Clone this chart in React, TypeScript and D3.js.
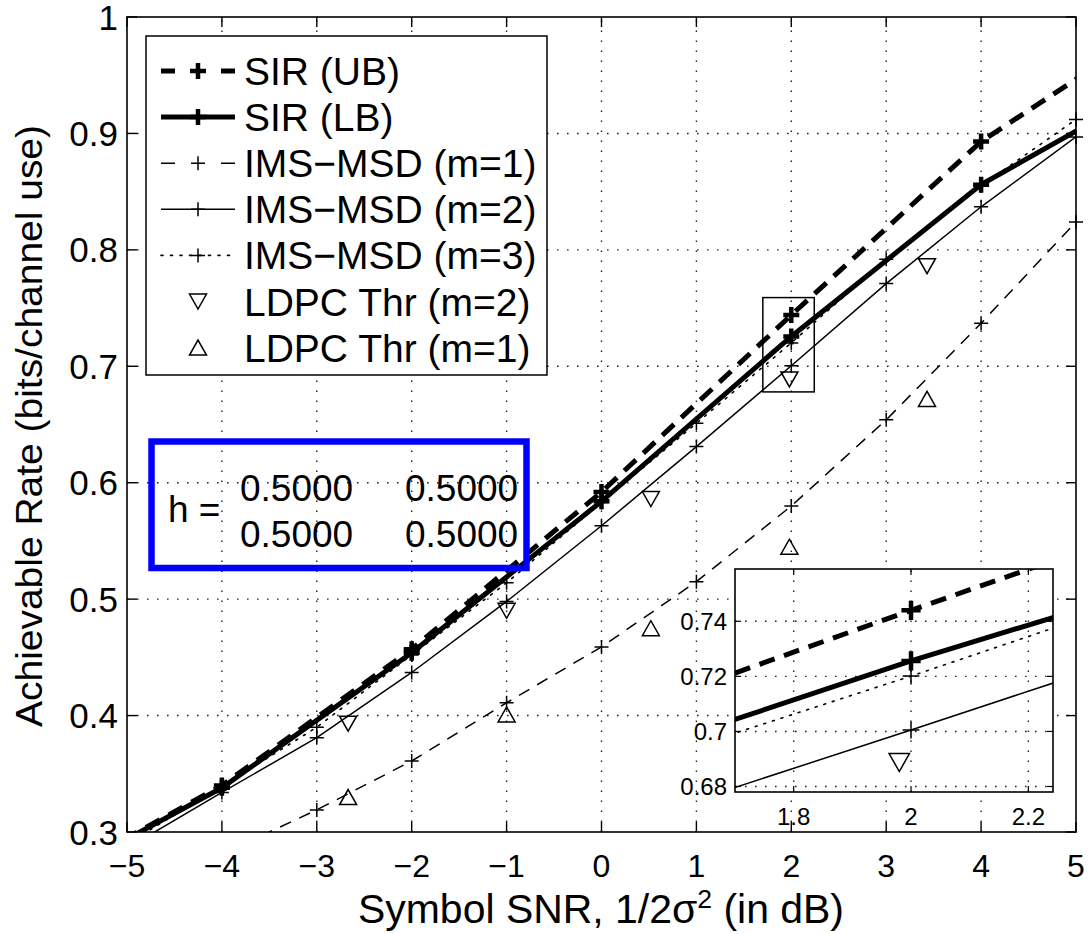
import React from "react";
import * as d3 from "d3";

// SIR bounds are evaluated every 2 dB (markers at each point)
const snrEven = [-6, -4, -2, 0, 2, 4, 6];
const sirUB = [0.25, 0.34, 0.457, 0.592, 0.744, 0.893, 1.0];
const sirLB = [0.25, 0.338, 0.454, 0.584, 0.7256, 0.856, 0.948];

// IMS-MSD curves, every 1 dB
const snrInt = [-5, -4, -3, -2, -1, 0, 1, 2, 3, 4, 5];
const imsM1 = [0.245, 0.281, 0.319, 0.361, 0.411, 0.459, 0.515, 0.58, 0.654, 0.737, 0.824];
const imsM2 = [0.286, 0.334, 0.381, 0.437, 0.498, 0.563, 0.631, 0.7005, 0.771, 0.837, 0.897];
const imsM3 = [0.29, 0.339, 0.39, 0.452, 0.514, 0.583, 0.651, 0.7201, 0.792, 0.855, 0.912];

// LDPC thresholds
const ldpcM2X = [-2.67, -1.0, 0.52, 1.98, 3.43];
const ldpcM2Y = [0.393, 0.49, 0.586, 0.6887, 0.786];
const ldpcM1X = [-2.67, -1.0, 0.52, 1.98, 3.43];
const ldpcM1Y = [0.33, 0.401, 0.475, 0.545, 0.672];

const xTicks = [-5, -4, -3, -2, -1, 0, 1, 2, 3, 4, 5];
const yTicks = [0.3, 0.4, 0.5, 0.6, 0.7, 0.8, 0.9, 1];
const insetXDomain = [1.7, 2.242];
const insetYDomain = [0.678, 0.759];
const insetXTicks = [1.8, 2, 2.2];
const insetYTicks = [0.68, 0.7, 0.72, 0.74];

const legendLabels = [
  "SIR (UB)",
  "SIR (LB)",
  "IMS\u2212MSD (m=1)",
  "IMS\u2212MSD (m=2)",
  "IMS\u2212MSD (m=3)",
  "LDPC Thr (m=2)",
  "LDPC Thr (m=1)",
];
const hRows = [
  ["0.5000", "0.5000"],
  ["0.5000", "0.5000"],
];

const FONT = "'Liberation Sans', Arial, Helvetica, sans-serif";
const W = 1089;
const H = 934;

type Series = {
  xs: number[];
  ys: number[];
  width: number;
  dash?: string;
  line: boolean;
  marker: "plusBold" | "plus" | "down" | "up";
};

const series: Series[] = [
  { xs: snrInt, ys: imsM1, width: 1.5, dash: "12 9", line: true, marker: "plus" },
  { xs: snrInt, ys: imsM2, width: 1.5, line: true, marker: "plus" },
  { xs: snrInt, ys: imsM3, width: 1.6, dash: "2 7", line: true, marker: "plus" },
  { xs: snrEven, ys: sirLB, width: 5, line: true, marker: "plusBold" },
  { xs: snrEven, ys: sirUB, width: 5, dash: "16 10", line: true, marker: "plusBold" },
  { xs: ldpcM2X, ys: ldpcM2Y, width: 1.5, line: false, marker: "down" },
  { xs: ldpcM1X, ys: ldpcM1Y, width: 1.5, line: false, marker: "up" },
];

const legendSeries = [4, 3, 0, 1, 2, 5, 6];

function Marker({ kind, cx, cy, k = 1 }: { kind: string; cx: number; cy: number; k?: number }) {
  if (kind === "plus" || kind === "plusBold") {
    const r = (kind === "plusBold" ? 8 : 7) * k;
    const sw = kind === "plusBold" ? 4.5 : 1.5;
    return (
      <path
        d={`M${cx - r},${cy}H${cx + r}M${cx},${cy - r}V${cy + r}`}
        stroke="#000"
        strokeWidth={sw}
        fill="none"
      />
    );
  }
  const hw = 8.5 * k;
  const hh = 7.5 * k;
  const d =
    kind === "down"
      ? `M${cx - hw},${cy - hh}L${cx + hw},${cy - hh}L${cx},${cy + hh}Z`
      : `M${cx - hw},${cy + hh}L${cx + hw},${cy + hh}L${cx},${cy - hh}Z`;
  return <path d={d} stroke="#000" strokeWidth={1.5} fill="none" strokeLinejoin="miter" />;
}

function Panel({
  xs,
  ys,
  clipId,
  k,
}: {
  xs: d3.ScaleLinear<number, number>;
  ys: d3.ScaleLinear<number, number>;
  clipId: string;
  k: number;
}) {
  const [x0, x1] = xs.domain();
  const [y0, y1] = ys.domain();
  return (
    <g>
      <g clipPath={`url(#${clipId})`}>
        {series.map((s, i) => {
          if (!s.line) return null;
          const pts = s.xs.map((v, j) => [v, s.ys[j]] as [number, number]);
          const line = d3
            .line<[number, number]>()
            .x((d) => xs(d[0]))
            .y((d) => ys(d[1]));
          return (
            <path
              key={i}
              d={line(pts) || ""}
              fill="none"
              stroke="#000"
              strokeWidth={s.width}
              strokeDasharray={s.dash}
              strokeLinecap={s.dash && s.dash.startsWith("2 ") ? "round" : "butt"}
            />
          );
        })}
      </g>
      {series.map((s, i) =>
        s.xs.map((v, j) => {
          const yv = s.ys[j];
          if (v < x0 - 1e-9 || v > x1 + 1e-9 || yv < y0 || yv > y1) return null;
          return <Marker key={`${i}-${j}`} kind={s.marker} cx={xs(v)} cy={ys(yv)} k={k} />;
        })
      )}
    </g>
  );
}

export default function App() {
  const x = d3.scaleLinear().domain([-5, 5]).range([127, 1076]);
  const y = d3.scaleLinear().domain([0.3, 1]).range([832, 17]);
  const xi = d3.scaleLinear().domain(insetXDomain).range([735, 1053]);
  const yi = d3.scaleLinear().domain(insetYDomain).range([792, 569]);
  const fmt = d3.format("");
  const tick = 10;
  const itick = 6;

  const [px0, px1] = x.range();
  const [py0, py1] = y.range();
  const [ix0, ix1] = xi.range();
  const [iy0, iy1] = yi.range();

  const legX = 146;
  const legY = 36;
  const legW = 401;
  const legH = 339;

  return (
    <svg
      width={W}
      height={H}
      style={{ position: "absolute", left: 0, top: 0, background: "#fff" }}
      fontFamily={FONT}
    >
      <defs>
        <clipPath id="mainClip">
          <rect x={px0} y={py1} width={px1 - px0} height={py0 - py1} />
        </clipPath>
        <clipPath id="insetClip">
          <rect x={ix0} y={iy1} width={ix1 - ix0} height={iy0 - iy1} />
        </clipPath>
      </defs>
      <rect width={W} height={H} fill="#fff" />

      {/* main grid */}
      <g stroke="#222" strokeWidth={1.4} strokeDasharray="1.6 8.4">
        {xTicks.slice(1, -1).map((t) => (
          <line key={`gx${t}`} x1={x(t)} x2={x(t)} y1={py0} y2={py1} />
        ))}
        {yTicks.slice(1, -1).map((t) => (
          <line key={`gy${t}`} x1={px0} x2={px1} y1={y(t)} y2={y(t)} />
        ))}
      </g>

      <Panel xs={x} ys={y} clipId="mainClip" k={1} />

      {/* axes box and ticks */}
      <rect x={px0} y={py1} width={px1 - px0} height={py0 - py1} fill="none" stroke="#000" strokeWidth={1.6} />
      <g stroke="#000" strokeWidth={1.4}>
        {xTicks.map((t) => (
          <g key={`tx${t}`}>
            <line x1={x(t)} x2={x(t)} y1={py0} y2={py0 - tick} />
            <line x1={x(t)} x2={x(t)} y1={py1} y2={py1 + tick} />
          </g>
        ))}
        {yTicks.map((t) => (
          <g key={`ty${t}`}>
            <line x1={px0} x2={px0 + tick} y1={y(t)} y2={y(t)} />
            <line x1={px1} x2={px1 - tick} y1={y(t)} y2={y(t)} />
          </g>
        ))}
      </g>
      <g fontSize={32} textAnchor="middle" fill="#000">
        {xTicks.map((t) => (
          <text key={`lx${t}`} x={x(t)} y={877}>
            {fmt(t)}
          </text>
        ))}
      </g>
      <g fontSize={35} textAnchor="end" fill="#000">
        {yTicks.map((t) => (
          <text key={`ly${t}`} x={118} y={y(t) + 12.5}>
            {fmt(t)}
          </text>
        ))}
      </g>
      <text x={601} y={923} fontSize={40} textAnchor="middle" textLength={486} lengthAdjust="spacingAndGlyphs">
        Symbol SNR, 1/2σ
        <tspan dy={-15} fontSize={26}>
          2
        </tspan>
        <tspan dy={15}> (in dB)</tspan>
      </text>
      <text
        transform="translate(42,426) rotate(-90)"
        fontSize={37}
        textAnchor="middle"
        textLength={602}
        lengthAdjust="spacingAndGlyphs"
      >
        Achievable Rate (bits/channel use)
      </text>

      {/* legend */}
      <rect x={legX} y={legY} width={legW} height={legH} fill="#fff" stroke="#000" strokeWidth={1.5} />
      {legendSeries.map((si, r) => {
        const s = series[si];
        const base = 85 + r * 46.1;
        const cy = base - 14;
        const lx0 = 161;
        const lx1 = 235;
        const mx = 198;
        let dash: string | undefined;
        if (s.dash === "16 10" || s.dash === "12 9") dash = "14 46";
        else if (s.dash) dash = "2 7.5";
        return (
          <g key={`leg${r}`}>
            {s.line && (
              <line
                x1={lx0}
                x2={lx1}
                y1={cy}
                y2={cy}
                stroke="#000"
                strokeWidth={s.width}
                strokeDasharray={dash}
                strokeLinecap={dash === "2 7.5" ? "round" : "butt"}
              />
            )}
            <Marker kind={s.marker} cx={mx} cy={cy} />
            <text x={244} y={base} fontSize={39}>
              {legendLabels[r]}
            </text>
          </g>
        );
      })}

      {/* annotation box */}
      <rect x={151.5} y={441.5} width={375} height={126.5} fill="none" stroke="#0000ff" strokeWidth={6.5} />
      <text x={168} y={522} fontSize={37}>
        h =
      </text>
      {hRows.map((row, r) =>
        row.map((v, c) => (
          <text key={`h${r}${c}`} x={c === 0 ? 240 : 405} y={500.7 + r * 46} fontSize={37}>
            {v}
          </text>
        ))
      )}

      {/* zoom region marker */}
      <rect
        x={x(insetXDomain[0])}
        y={y(insetYDomain[1])}
        width={x(insetXDomain[1]) - x(insetXDomain[0])}
        height={y(insetYDomain[0]) - y(insetYDomain[1])}
        fill="none"
        stroke="#000"
        strokeWidth={1.5}
      />

      {/* inset */}
      <rect x={ix0} y={iy1} width={ix1 - ix0} height={iy0 - iy1} fill="#fff" />
      <g stroke="#222" strokeWidth={1.4} strokeDasharray="1.6 8.4">
        {insetXTicks.map((t) => (
          <line key={`igx${t}`} x1={xi(t)} x2={xi(t)} y1={iy0} y2={iy1} />
        ))}
        {insetYTicks.map((t) => (
          <line key={`igy${t}`} x1={ix0} x2={ix1} y1={yi(t)} y2={yi(t)} />
        ))}
      </g>
      <Panel xs={xi} ys={yi} clipId="insetClip" k={1.2} />
      <rect x={ix0} y={iy1} width={ix1 - ix0} height={iy0 - iy1} fill="none" stroke="#000" strokeWidth={1.6} />
      <g stroke="#000" strokeWidth={1.2}>
        {insetXTicks.map((t) => (
          <g key={`itx${t}`}>
            <line x1={xi(t)} x2={xi(t)} y1={iy0} y2={iy0 - itick} />
            <line x1={xi(t)} x2={xi(t)} y1={iy1} y2={iy1 + itick} />
          </g>
        ))}
        {insetYTicks.map((t) => (
          <g key={`ity${t}`}>
            <line x1={ix0} x2={ix0 + itick} y1={yi(t)} y2={yi(t)} />
            <line x1={ix1} x2={ix1 - itick} y1={yi(t)} y2={yi(t)} />
          </g>
        ))}
      </g>
      <g fontSize={24} textAnchor="middle">
        {insetXTicks.map((t) => (
          <text key={`ilx${t}`} x={xi(t)} y={825}>
            {fmt(t)}
          </text>
        ))}
      </g>
      <g fontSize={24} textAnchor="end">
        {insetYTicks.map((t) => (
          <text key={`ily${t}`} x={727} y={yi(t) + 8.5}>
            {fmt(t)}
          </text>
        ))}
      </g>
    </svg>
  );
}
